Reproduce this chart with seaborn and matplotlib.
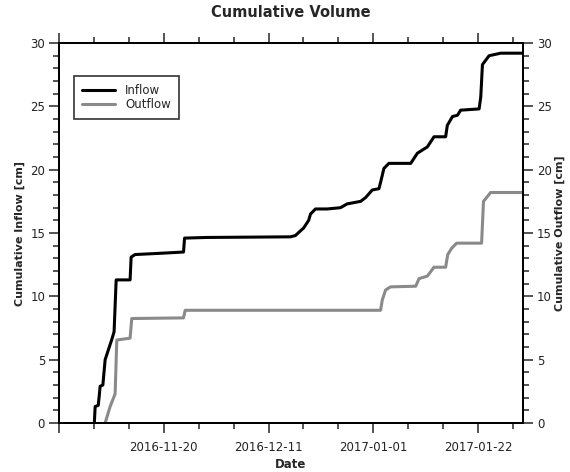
import pandas as pd
import matplotlib
matplotlib.use("Agg")
import matplotlib.pyplot as plt
import matplotlib.dates as mdates
import matplotlib.ticker as mticker
import seaborn as sns

# values (cm)
inflow_dates = [
    "2016-11-06 02:00", "2016-11-06 06:00", "2016-11-06 21:00",
    "2016-11-07 06:00", "2016-11-07 19:00", "2016-11-08 06:00", "2016-11-08 22:00",
    "2016-11-09 14:00", "2016-11-10 01:00", "2016-11-10 11:00", "2016-11-13 06:00",
    "2016-11-13 11:00", "2016-11-14 06:00", "2016-11-19 07:00", "2016-11-23 23:00",
    "2016-11-24 04:00", "2016-11-28 16:00", "2016-12-15 09:00", "2016-12-16 09:00",
    "2016-12-18 01:00", "2016-12-19 01:00", "2016-12-19 10:00", "2016-12-20 10:00",
    "2016-12-22 18:00", "2016-12-25 10:00", "2016-12-26 18:00", "2016-12-29 11:00",
    "2016-12-30 11:00", "2016-12-31 19:00", "2017-01-02 03:00", "2017-01-02 11:00",
    "2017-01-03 03:00", "2017-01-04 03:00", "2017-01-08 12:00", "2017-01-09 20:00",
    "2017-01-11 20:00", "2017-01-13 04:00", "2017-01-15 12:00", "2017-01-15 20:00",
    "2017-01-16 21:00", "2017-01-17 21:00", "2017-01-18 12:00", "2017-01-22 05:00",
    "2017-01-22 13:00", "2017-01-22 21:00", "2017-01-24 05:00", "2017-01-26 13:00",
    "2017-01-31 00:00",
]
inflow = [
    0.0, 1.3, 1.4,
    2.9, 3.0, 5.0, 5.8,
    6.6, 7.2, 11.3, 11.3,
    13.1, 13.3, 13.4, 13.5,
    14.6, 14.65, 14.7, 14.8,
    15.4, 16.0, 16.5, 16.9,
    16.9, 17.0, 17.3, 17.5,
    17.8, 18.4, 18.5, 19.0,
    20.1, 20.5, 20.5, 21.3,
    21.8, 22.6, 22.6, 23.5,
    24.2, 24.3, 24.7, 24.8,
    25.75, 28.3, 29.0, 29.2,
    29.2,
]

outflow_dates = [
    "2016-11-08 06:00", "2016-11-09 06:00", "2016-11-10 06:00",
    "2016-11-10 14:00", "2016-11-13 06:00", "2016-11-13 14:00", "2016-11-23 23:00",
    "2016-11-24 07:00", "2017-01-02 11:00", "2017-01-02 19:00", "2017-01-03 11:00",
    "2017-01-04 11:00", "2017-01-09 12:00", "2017-01-10 04:00", "2017-01-11 20:00",
    "2017-01-13 04:00", "2017-01-15 12:00", "2017-01-15 22:00", "2017-01-16 17:00",
    "2017-01-17 17:00", "2017-01-22 17:00", "2017-01-23 02:00", "2017-01-23 22:00",
    "2017-01-24 12:00", "2017-01-31 00:00",
]
outflow = [
    0.0, 1.3, 2.3,
    6.55, 6.7, 8.25, 8.3,
    8.9, 8.9, 9.7, 10.5,
    10.75, 10.8, 11.4, 11.6,
    12.3, 12.3, 13.3, 13.8,
    14.2, 14.2, 17.5, 17.9,
    18.2, 18.2,
]

major_ticks = ["2016-10-30", "2016-11-20", "2016-12-11", "2017-01-01", "2017-01-22"]
major_labels = ["", "2016-11-20", "2016-12-11", "2017-01-01", "2017-01-22"]

df_in = pd.DataFrame({"date": pd.to_datetime(inflow_dates), "vol": inflow})
df_out = pd.DataFrame({"date": pd.to_datetime(outflow_dates), "vol": outflow})

sns.set_style("ticks")
plt.rcParams["font.family"] = ["DejaVu Sans"]

fig = plt.figure(figsize=(5.7, 4.72), dpi=100)
ax = fig.add_axes([0.1035, 0.1038, 0.814, 0.805])

sns.lineplot(data=df_in, x="date", y="vol", ax=ax, color="black", lw=2.2, label="Inflow")
sns.lineplot(data=df_out, x="date", y="vol", ax=ax, color="#8a8a8a", lw=2.2, label="Outflow")

ax.set_xlim(pd.Timestamp("2016-10-30"), pd.Timestamp("2017-01-31"))
ax.set_ylim(0, 30)

ax.xaxis.set_major_locator(mticker.FixedLocator(mdates.date2num(pd.to_datetime(major_ticks))))
ax.xaxis.set_major_formatter(mticker.FixedFormatter(major_labels))
ax.xaxis.set_minor_locator(mdates.WeekdayLocator(byweekday=mdates.SU))
ax.yaxis.set_major_locator(mticker.MultipleLocator(5))
ax.yaxis.set_minor_locator(mticker.MultipleLocator(1))
ax.xaxis.set_ticks_position("both")
ax.yaxis.set_ticks_position("left")

ax2 = ax.twinx()
ax2.set_ylim(0, 30)
ax2.yaxis.set_major_locator(mticker.MultipleLocator(5))
ax2.yaxis.set_minor_locator(mticker.MultipleLocator(1))
ax2.yaxis.set_ticks_position("right")

for a in (ax, ax2):
    a.tick_params(which="major", direction="out", length=7, width=1.1, labelsize=8.5,
                  labelcolor="#222222", pad=3)
    a.tick_params(which="minor", direction="out", length=4.5, width=1.1)
    for s in a.spines.values():
        s.set_visible(True)
        s.set_linewidth(1.4)
        s.set_color("black")
ax.tick_params(axis="x", which="major", pad=6)

ax.set_title("Cumulative Volume", fontsize=10.5, fontweight="bold", pad=19)
ax.set_xlabel("Date", fontsize=8.5, fontweight="bold", labelpad=3)
ax.set_ylabel("Cumulative Inflow [cm]", fontsize=8, fontweight="bold", labelpad=4)
ax2.set_ylabel("Cumulative Outflow [cm]", fontsize=8, fontweight="bold", labelpad=2)

leg = ax.legend(loc="upper left", bbox_to_anchor=(0.02, 0.93), fontsize=8.5, frameon=True,
                fancybox=False, edgecolor="black", handlelength=2.8, borderpad=0.7,
                labelspacing=0.1)
leg.get_frame().set_linewidth(1.2)

fig.savefig("out.png", dpi=100)
